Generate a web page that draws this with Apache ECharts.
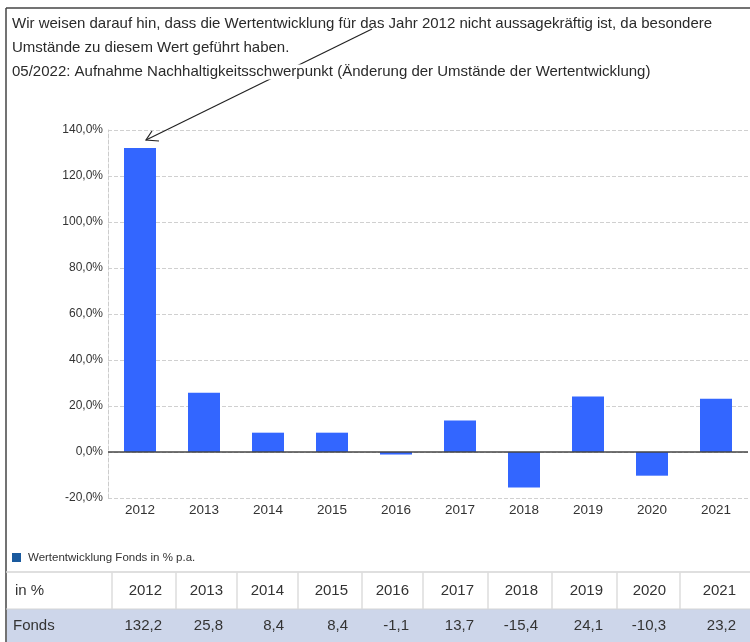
<!DOCTYPE html>
<html>
<head>
<meta charset="utf-8">
<script src="https://cdn.jsdelivr.net/npm/echarts@6/dist/echarts.min.js"></script>
<style>
  html, body { margin: 0; padding: 0; background: #fff; }
  #main { width: 750px; height: 642px; }
</style>
</head>
<body>
<div id="main"></div>
<script>
// data
const years = ["2012", "2013", "2014", "2015", "2016", "2017", "2018", "2019", "2020", "2021"];
const fonds = [132.2, 25.8, 8.4, 8.4, -1.1, 13.7, -15.4, 24.1, -10.3, 23.2];
const notes = [
  "Wir weisen darauf hin, dass die Wertentwicklung für das Jahr 2012 nicht aussagekräftig ist, da besondere",
  "Umstände zu diesem Wert geführt haben.",
  "05/2022: Aufnahme Nachhaltigkeitsschwerpunkt (Änderung der Umstände der Wertentwicklung)"
];
const legendLabel = "Wertentwicklung Fonds in % p.a.";
const rowHead = ["in %", "Fonds"];

// table column edges (layout)
const colEdges = [112, 176, 237, 298, 362, 423, 488, 552, 617, 680, 750];
const font = '"Liberation Sans", Arial, sans-serif';
const fmt = v => v.toFixed(1).replace(".", ",");

const chart = echarts.init(document.getElementById("main"));

const graphics = [];

// frame
graphics.push({ type: "line", shape: { x1: 6, y1: 8, x2: 750, y2: 8 }, style: { stroke: "#444", lineWidth: 1.5 } });
graphics.push({ type: "line", shape: { x1: 6, y1: 8, x2: 6, y2: 642 }, style: { stroke: "#444", lineWidth: 1.5 } });

// annotation arrow (drawn before text so text covers it)
graphics.push({ type: "line", shape: { x1: 372, y1: 29, x2: 146, y2: 140 }, style: { stroke: "#222", lineWidth: 1.2 }, z: 10 });
graphics.push({ type: "polyline", shape: { points: [[152, 131], [146, 140], [159, 141]] }, style: { stroke: "#222", lineWidth: 1.2, fill: null }, z: 10 });

notes.forEach((t, i) => {
  graphics.push({
    type: "text", x: 12, y: 24 + i * 24, z: 11,
    style: { text: t, font: "15px " + font, fill: "#2a2a2a", verticalAlign: "middle",
      backgroundColor: i === 2 ? "#fff" : null }
  });
});

// legend
graphics.push({ type: "rect", shape: { x: 12, y: 553, width: 9, height: 9 }, style: { fill: "#1a5a9e" } });
graphics.push({ type: "text", x: 28, y: 558, style: { text: legendLabel, font: "11.5px " + font, fill: "#333", verticalAlign: "middle" } });

// table
graphics.push({ type: "line", shape: { x1: 6, y1: 572, x2: 750, y2: 572 }, style: { stroke: "#d4d4d4", lineWidth: 1.5 } });
graphics.push({ type: "rect", shape: { x: 7, y: 609, width: 743, height: 33 }, style: { fill: "#cdd6ea" } });
graphics.push({ type: "line", shape: { x1: 6, y1: 609, x2: 750, y2: 609 }, style: { stroke: "#d4d4d4", lineWidth: 1 } });
colEdges.slice(0, -1).forEach(x => {
  graphics.push({ type: "line", shape: { x1: x, y1: 572, x2: x, y2: 609 }, style: { stroke: "#dcdcdc", lineWidth: 1.5 } });
});
graphics.push({ type: "text", x: 15, y: 591, style: { text: rowHead[0], font: "15px " + font, fill: "#333", verticalAlign: "middle" } });
graphics.push({ type: "text", x: 13, y: 626, style: { text: rowHead[1], font: "15px " + font, fill: "#333", verticalAlign: "middle" } });
years.forEach((y, i) => {
  const right = colEdges[i + 1] - 14;
  graphics.push({ type: "text", x: right, y: 591, style: { text: y, font: "15px " + font, fill: "#333", align: "right", verticalAlign: "middle" } });
  graphics.push({ type: "text", x: right, y: 626, style: { text: fmt(fonds[i]), font: "15px " + font, fill: "#333", align: "right", verticalAlign: "middle" } });
});

const option = {
  animation: false,
  textStyle: { fontFamily: font },
  grid: { left: 108, right: 2, top: 130, bottom: 144 },
  xAxis: {
    type: "category",
    data: years,
    axisLine: { show: false, onZero: false },
    axisTick: { show: false },
    axisLabel: { color: "#333", fontSize: 13.5, margin: 5 }
  },
  yAxis: {
    type: "value",
    min: -20,
    max: 140,
    interval: 20,
    axisLine: { show: true, lineStyle: { color: "#ccc", type: "dashed" } },
    axisTick: { show: false },
    axisLabel: { color: "#333", fontSize: 12, margin: 5, formatter: v => fmt(v) + "%" },
    splitLine: { lineStyle: { color: "#d0d0d0", type: "dashed" } }
  },
  series: [{
    type: "bar",
    data: fonds,
    barWidth: "50%",
    itemStyle: { color: "#3366ff" },
    markLine: {
      silent: true,
      symbol: "none",
      label: { show: false },
      lineStyle: { color: "#444", width: 1.5, type: "solid" },
      data: [{ yAxis: 0 }]
    }
  }],
  graphic: graphics
};

chart.setOption(option);
</script>
</body>
</html>
